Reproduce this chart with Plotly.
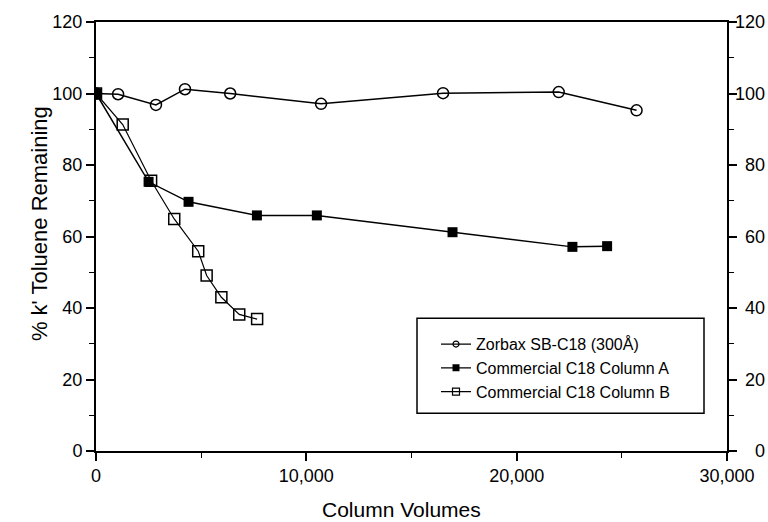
import plotly.graph_objects as go

# Data
zorbax_x = [0, 1050, 2850, 4230, 6380, 10700, 16500, 22000, 25700]
zorbax_y = [100, 99.8, 96.8, 101.2, 100, 97.1, 100.1, 100.4, 95.3]

colA_x = [0, 2500, 4400, 7650, 10500, 16950, 22650, 24300]
colA_y = [100, 75.3, 69.7, 65.9, 65.9, 61.2, 57.1, 57.3]

colB_x = [0, 1270, 2620, 3720, 4860, 5260, 5960, 6810, 7660]
colB_y = [100, 91.3, 75.6, 64.9, 55.9, 49.1, 43.0, 38.2, 36.9]

series_names = ["Zorbax SB-C18 (300Å)", "Commercial C18 Column A", "Commercial C18 Column B"]
y_ticks = [0, 20, 40, 60, 80, 100, 120]
x_ticks = [0, 10000, 20000, 30000]

FONT = "Liberation Sans, Arial, sans-serif"

styles = [
    dict(symbol="circle-open", size=11, lw=1.5, mlw=1.5),
    dict(symbol="square", size=10, lw=1.5, mlw=0),
    dict(symbol="square-open", size=11, lw=1.2, mlw=1.5),
]
data = [(zorbax_x, zorbax_y), (colA_x, colA_y), (colB_x, colB_y)]

fig = go.Figure()
for (xs, ys), name, st in zip(data, series_names, styles):
    fig.add_trace(go.Scatter(
        x=xs, y=ys, mode="lines+markers", name=name, showlegend=False,
        line=dict(color="black", width=st["lw"]),
        marker=dict(symbol=st["symbol"], size=st["size"], color="black",
                    line=dict(width=st["mlw"], color="black")),
    ))
# Legend entries with small symbols, as in the reference
legend_sizes = [6, 7, 7]
for name, st, ls in zip(series_names, styles, legend_sizes):
    fig.add_trace(go.Scatter(
        x=[None], y=[None], mode="lines+markers", name=name, showlegend=True,
        line=dict(color="black", width=1.2),
        marker=dict(symbol=st["symbol"], size=ls, color="black",
                    line=dict(width=1.2 if st["mlw"] else 0, color="black")),
    ))

L, R, T, B = 96, 41, 18, 71
W, H = 768, 522
pw, ph = W - L - R, H - T - B

def px_x(p):
    return (p - L) / pw

def px_y(p):
    return (H - B - p) / ph

fig.update_layout(
    width=W, height=H,
    margin=dict(l=L, r=R, t=T, b=B),
    paper_bgcolor="white", plot_bgcolor="white",
    font=dict(family=FONT, color="black", size=18),
    showlegend=True,
    legend=dict(
        x=px_x(436), y=px_y(326), xanchor="left", yanchor="top",
        bgcolor="rgba(0,0,0,0)", borderwidth=0, tracegroupgap=0,
        font=dict(family=FONT, size=16, color="black"),
    ),
    xaxis=dict(
        range=[0, 30000], tickvals=x_ticks, tickformat=",d",
        showgrid=False, zeroline=False,
        showline=True, linecolor="black", linewidth=1.5, mirror=True,
        ticks="outside", ticklen=8, tickwidth=1.5, tickcolor="black",
        minor=dict(dtick=5000, ticks="outside", ticklen=5, tickwidth=1.2, tickcolor="black"),
        tickfont=dict(size=18),
    ),
    yaxis=dict(
        range=[0, 120], tickvals=y_ticks,
        showgrid=False, zeroline=False,
        showline=True, linecolor="black", linewidth=2, mirror="ticks",
        ticks="outside", ticklen=8, tickwidth=1.5, tickcolor="black",
        minor=dict(dtick=10, ticks="outside", ticklen=5, tickwidth=1.2, tickcolor="black"),
        tickfont=dict(size=18),
    ),
)

# Legend box
fig.add_shape(type="rect", xref="paper", yref="paper",
              x0=px_x(417), x1=px_x(704), y0=px_y(413), y1=px_y(317),
              line=dict(color="black", width=1.5), fillcolor="rgba(0,0,0,0)")

annotations = []
# Right-side tick labels (right aligned)
for v in y_ticks:
    annotations.append(dict(x=px_x(767), xref="paper", y=v, yref="y",
                            text=str(v), showarrow=False, xanchor="right", yanchor="middle",
                            font=dict(family=FONT, size=18, color="black")))
# Axis titles
annotations.append(dict(x=px_x(401), xref="paper", y=px_y(510), yref="paper",
                        text="Column Volumes", showarrow=False, xanchor="center", yanchor="middle",
                        font=dict(family=FONT, size=21, color="black")))
annotations.append(dict(x=px_x(39), xref="paper", y=px_y(222), yref="paper",
                        text="% k' Toluene Remaining", showarrow=False, textangle=-90,
                        xanchor="center", yanchor="middle",
                        font=dict(family=FONT, size=22, color="black")))
fig.update_layout(annotations=annotations)

fig.write_html("out.html")
